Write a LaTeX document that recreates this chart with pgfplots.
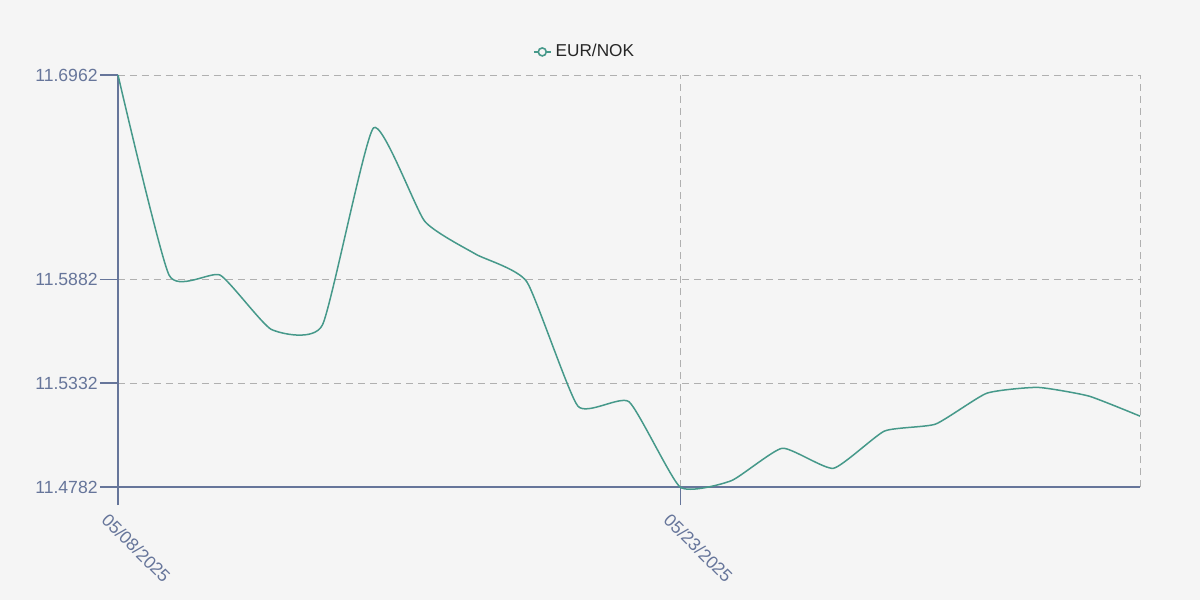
\documentclass[border=0pt]{standalone}
\usepackage{fontspec}
\setmainfont{Liberation Sans}
\usepackage{pgfplots}
\pgfplotsset{compat=1.18}
\definecolor{bg}{HTML}{F5F5F5}
\definecolor{lab}{HTML}{66759A}
\definecolor{ln}{HTML}{46998A}
\definecolor{grd}{HTML}{B0B0B0}
\begin{document}
\begin{tikzpicture}
\fill[bg] (-59pt,-56.5pt) rectangle (541pt,243.5pt);
\begin{axis}[
  name=ax,
  at={(0pt,0pt)}, anchor=south west, scale only axis,
  width=511pt, height=206pt,
  xmin=0, xmax=20, ymin=11.4782, ymax=11.6962,
  clip=false,
  axis lines=left,
  axis line style={lab, line width=0.7pt, -},
  tick style={lab, line width=0.6pt},
  tick align=outside, major tick length=9pt,
  grid=major,
  major grid style={grd, line width=0.5pt, dash pattern=on 3.5pt off 2.5pt},
  xtick={0,11}, xticklabels={05/08/2025,05/23/2025},
  extra x ticks={20}, extra x tick labels={},
  extra x tick style={grid=major, major tick length=0pt},
  ytick={11.4782,11.5332,11.5882,11.6962},
  yticklabels={11.4782,11.5332,11.5882,11.6962},
  ticklabel style={font=\fontsize{8.8}{10}\selectfont, text=lab},
  yticklabel style={inner sep=1pt},
  xticklabel style={rotate=-45, anchor=north west, inner sep=1pt, xshift=-1.5pt, yshift=-4.4pt},
  legend style={at={(axis description cs:0.4574,1.056)}, anchor=center,
    draw=none, fill=none, font=\fontsize{8.6}{10}\selectfont, text=black!85},
  legend image code/.code={
    \draw[ln, line width=0.9pt] (0pt,0pt) -- (8.5pt,0pt);
    \draw[ln, line width=0.8pt, fill=bg] (4.25pt,0pt) circle (2pt);
  },
]
\addplot[ln, line width=0.75pt, smooth, tension=0.3, no marks] coordinates {
(0,11.6962) (1,11.5903) (2,11.5903) (3,11.5616) (4,11.5639) (5,11.6682)
(6,11.6189) (7,11.6014) (8,11.5868) (9,11.5210) (10,11.5233) (11,11.4782)
(12,11.4815) (13,11.4987) (14,11.4881) (15,11.5078) (16,11.5115) (17,11.5278)
(18,11.5309) (19,11.5263) (20,11.5157)
};
\addlegendentry{EUR/NOK}
\end{axis}
\pgfresetboundingbox
\path[use as bounding box] (-59pt,-56.5pt) rectangle (541pt,243.5pt);
\end{tikzpicture}
\end{document}
